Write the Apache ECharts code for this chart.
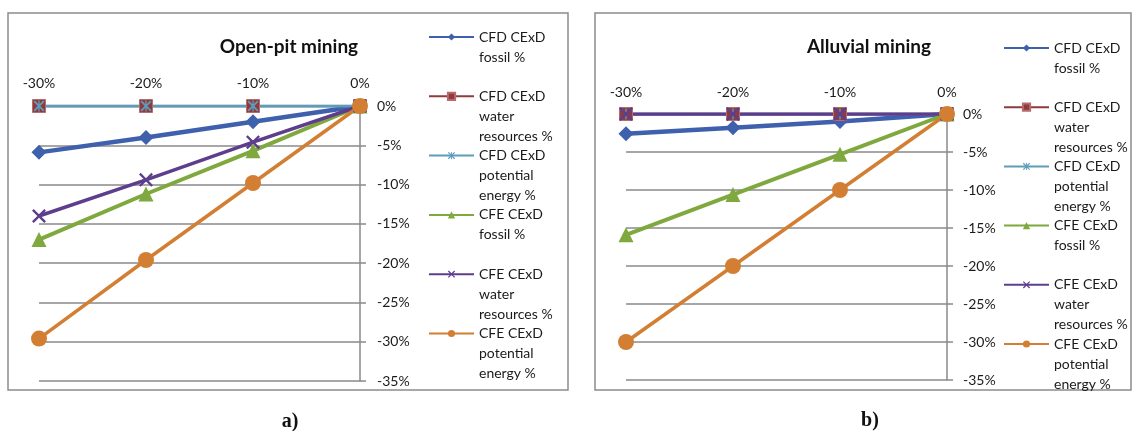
<!DOCTYPE html>
<html>
<head>
<meta charset="utf-8">
<script src="https://cdn.jsdelivr.net/npm/echarts@6/dist/echarts.min.js"></script>
<style>
html,body{margin:0;padding:0;background:#fff;}
#chart{width:1132px;height:431px;}
</style>
</head>
<body>
<div id="chart"></div>
<script>
// ---- data ----
const categories = ['-30%', '-20%', '-10%', '0%'];
const seriesNames = ['CFD CExD fossil %', 'CFD CExD water resources %', 'CFD CExD potential energy %',
                     'CFE CExD fossil %', 'CFE CExD water resources %', 'CFE CExD potential energy %'];
const legendLines = [
  ['CFD CExD', 'fossil %'],
  ['CFD CExD', 'water', 'resources %'],
  ['CFD CExD', 'potential', 'energy %'],
  ['CFE CExD', 'fossil %'],
  ['CFE CExD', 'water', 'resources %'],
  ['CFE CExD', 'potential', 'energy %']
];
const yTicks = [0, -5, -10, -15, -20, -25, -30, -35];
const chartTitles = ['Open-pit mining', 'Alluvial mining'];
const panelLabels = ['a)', 'b)'];

// Open-pit mining (%)
const openCfdFossil    = [-5.9, -4.0, -2.0, 0];
const openCfdWater     = [0, 0, 0, 0];
const openCfdPotential = [0, 0, 0, 0];
const openCfeFossil    = [-17.0, -11.2, -5.7, 0];
const openCfeWater     = [-14.0, -9.4, -4.6, 0];
const openCfePotential = [-29.6, -19.6, -9.8, 0];

// Alluvial mining (%)
const alluvCfdFossil    = [-2.6, -1.8, -1.0, 0];
const alluvCfdWater     = [0, 0, 0, 0];
const alluvCfdPotential = [0, 0, 0, 0];
const alluvCfeFossil    = [-15.9, -10.6, -5.3, 0];
const alluvCfeWater     = [0, 0, 0, 0];
const alluvCfePotential = [-30.0, -20.0, -10.0, 0];

// ---- styles ----
const FONT = 'Lato';
const GRID_COLOR = '#8a8a8a';
const xPath = 'path://M0,1.2 L1.2,0 L5,3.8 L8.8,0 L10,1.2 L6.2,5 L10,8.8 L8.8,10 L5,6.2 L1.2,10 L0,8.8 L3.8,5 Z';
const starPath = 'path://M0,1.2 L1.2,0 L5,3.8 L8.8,0 L10,1.2 L6.2,5 L10,8.8 L8.8,10 L5,6.2 L1.2,10 L0,8.8 L3.8,5 Z M4.4,0 L5.6,0 L5.6,10 L4.4,10 Z';
const seriesStyles = [
  {color: '#3F60AC', symbol: 'diamond', size: 15, width: 4.5},
  {color: '#8E3B3E', symbol: 'rect', size: 13, width: 2.5, border: '#B86A6C'},
  {color: '#5E9DBA', symbol: starPath, size: 11, width: 3},
  {color: '#7FA83E', symbol: 'triangle', size: 15, width: 4},
  {color: '#5E3E8C', symbol: xPath, size: 14, width: 3.5},
  {color: '#D27F33', symbol: 'circle', size: 16, width: 3.5}
];

const openData = [openCfdFossil, openCfdWater, openCfdPotential, openCfeFossil, openCfeWater, openCfePotential];
const alluvData = [alluvCfdFossil, alluvCfdWater, alluvCfdPotential, alluvCfeFossil, alluvCfeWater, alluvCfePotential];

function padLegend(name) {
  const lines = legendLines[seriesNames.indexOf(name)];
  // pad so the first text line sits at the icon (5 lines total)
  const out = ['', ''].concat(lines);
  while (out.length < 5) out.push(' ');
  return out.join('\n');
}

function makeSeries(dataSets, gridIdx) {
  return dataSets.map((d, i) => {
    const s = seriesStyles[i];
    return {
      name: seriesNames[i],
      type: 'line',
      xAxisIndex: gridIdx,
      yAxisIndex: gridIdx,
      data: d,
      symbol: s.symbol,
      symbolSize: s.size,
      showAllSymbol: true,
      lineStyle: {color: s.color, width: s.width},
      itemStyle: {color: s.color, borderColor: s.border || s.color, borderWidth: s.border ? 1 : 0},
      emphasis: {disabled: true},
      z: 3
    };
  });
}

function makeXAxis(gridIdx, margin) {
  return {
    type: 'category', gridIndex: gridIdx, data: categories, position: 'top',
    boundaryGap: false,
    axisLine: {show: true, lineStyle: {color: GRID_COLOR, width: 1.5}},
    axisTick: {show: false},
    axisLabel: {margin: margin, color: '#1a1a1a', fontSize: 14, fontFamily: FONT},
    splitLine: {show: false}
  };
}
function makeYAxis(gridIdx, margin) {
  return {
    type: 'value', gridIndex: gridIdx, position: 'right',
    min: yTicks[yTicks.length - 1], max: yTicks[0], interval: 5,
    axisLine: {show: true, onZero: false, lineStyle: {color: GRID_COLOR, width: 1.5}},
    axisTick: {show: true, inside: false, length: 6, lineStyle: {color: GRID_COLOR, width: 1.5}},
    axisLabel: {margin: margin, color: '#1a1a1a', fontSize: 14, fontFamily: FONT, formatter: v => v + '%'},
    splitLine: {show: true, lineStyle: {color: GRID_COLOR, width: 1.5}}
  };
}

function makeLegend(left, top, gap) {
  return {
    type: 'plain', orient: 'vertical', left: left, top: top, height: 500,
    data: seriesNames, itemWidth: 45, itemHeight: 9, itemGap: gap,
    selectedMode: false,
    formatter: padLegend,
    textStyle: {fontFamily: FONT, fontSize: 14, color: '#1a1a1a', lineHeight: 20}
  };
}

const chart = echarts.init(document.getElementById('chart'), null, {renderer: 'canvas'});
chart.setOption({
  animation: false,
  textStyle: {fontFamily: FONT},
  title: [
    {text: chartTitles[0], left: 284, top: 32, textAlign: 'center',
     textStyle: {fontFamily: FONT, fontSize: 19, fontWeight: 'bold', color: '#111'}},
    {text: chartTitles[1], left: 864, top: 32, textAlign: 'center',
     textStyle: {fontFamily: FONT, fontSize: 19, fontWeight: 'bold', color: '#111'}}
  ],
  legend: [makeLegend(423, -18, -40.7), makeLegend(998, -7, -40.8)],
  grid: [
    {left: 39, top: 106, width: 321, height: 275, containLabel: false},
    {left: 626, top: 114, width: 321, height: 266, containLabel: false}
  ],
  xAxis: [makeXAxis(0, 16), makeXAxis(1, 15)],
  yAxis: [makeYAxis(0, 17), makeYAxis(1, 16)],
  series: makeSeries(openData, 0).concat(makeSeries(alluvData, 1)),
  graphic: [
    {type: 'rect', shape: {x: 8, y: 13, width: 560, height: 377}, z: -1,
     style: {fill: 'none', stroke: '#8c8c8c', lineWidth: 1.5}},
    {type: 'rect', shape: {x: 595, y: 13, width: 536, height: 377}, z: -1,
     style: {fill: 'none', stroke: '#8c8c8c', lineWidth: 1.5}},
    {type: 'text', x: 290, y: 422, style: {text: panelLabels[0], font: 'bold 20px "Liberation Serif"', fill: '#111', align: 'center', verticalAlign: 'middle'}},
    {type: 'text', x: 870, y: 421, style: {text: panelLabels[1], font: 'bold 20px "Liberation Serif"', fill: '#111', align: 'center', verticalAlign: 'middle'}}
  ]
});
</script>
</body>
</html>
